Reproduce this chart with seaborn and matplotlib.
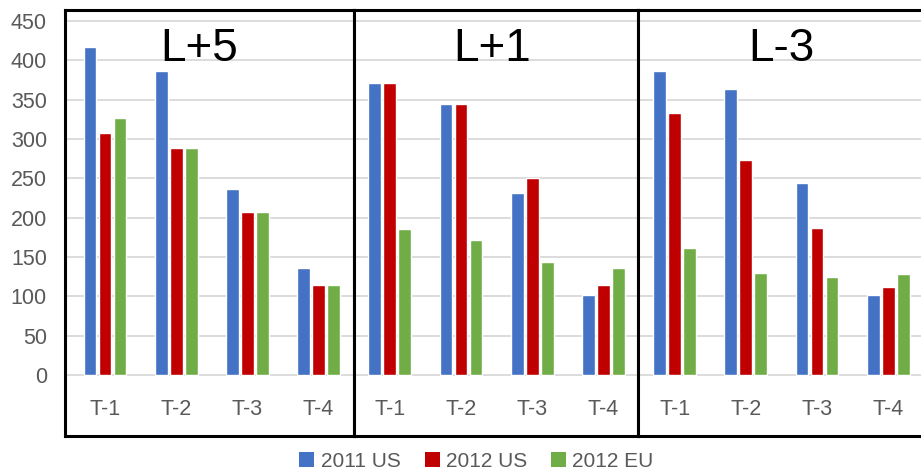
import matplotlib
matplotlib.use("Agg")
import matplotlib.pyplot as plt
import pandas as pd
import seaborn as sns
from matplotlib.patches import Patch

# ---- data -----------------------------------------------------------------
categories = ["T-1", "T-2", "T-3", "T-4"]
panels = ["L+5", "L+1", "L-3"]
series = ["2011 US", "2012 US", "2012 EU"]
colors = ["#4472C4", "#C00000", "#70AD47"]

us2011_l5 = [417, 387, 237, 136]
us2012_l5 = [307, 288, 207, 114]
eu2012_l5 = [327, 288, 207, 115]

us2011_l1 = [371, 345, 231, 102]
us2012_l1 = [371, 345, 250, 115]
eu2012_l1 = [185, 172, 144, 136]

us2011_l3 = [387, 363, 244, 102]
us2012_l3 = [333, 273, 187, 112]
eu2012_l3 = [161, 130, 125, 128]

y_ticks = [0, 50, 100, 150, 200, 250, 300, 350, 400, 450]

panel_values = {
    "L+5": [us2011_l5, us2012_l5, eu2012_l5],
    "L+1": [us2011_l1, us2012_l1, eu2012_l1],
    "L-3": [us2011_l3, us2012_l3, eu2012_l3],
}

rows = []
for p in panels:
    for s, vals in zip(series, panel_values[p]):
        for c, v in zip(categories, vals):
            rows.append({"panel": p, "series": s, "period": c, "value": v})
df = pd.DataFrame(rows)

# ---- styling ----------------------------------------------------------------
sns.set_theme(style="white")
plt.rcParams["font.family"] = ["Liberation Sans", "DejaVu Sans"]

W, H = 921, 469
fig = plt.figure(figsize=(W / 100, H / 100), dpi=100)

# layout in pixels
box_top, box_bottom = 10, 436
zero_px, top_px = 375.0, 21.0
px_per_unit = (zero_px - top_px) / 450.0
ymax = (zero_px - box_top) / px_per_unit
ymin = -(box_bottom - zero_px) / px_per_unit

edges = [65, 353.5, 637.5, 921]
first_center, step = 105.0, 71.2
title_x = [0.464, 0.487, 0.506]
title_y = (box_bottom - 49) / (box_bottom - box_top)

grey = "#595959"

for i, name in enumerate(panels):
    left, right = edges[i], edges[i + 1]
    ax = fig.add_axes([left / W, (H - box_bottom) / H,
                       (right - left) / W, (box_bottom - box_top) / H])
    sns.barplot(data=df[df["panel"] == name], x="period", y="value",
                hue="series", order=categories, hue_order=series,
                palette=colors, saturation=1, width=0.63, gap=0.15,
                errorbar=None, legend=False, ax=ax)
    c0 = first_center + i * 4 * step
    ax.set_xlim((left - c0) / step, (right - c0) / step)
    ax.set_ylim(ymin, ymax)
    ax.set_yticks(y_ticks)
    ax.set_xlabel("")
    ax.set_ylabel("")
    ax.grid(axis="y", color="#D9D9D9", linewidth=1.3)
    ax.grid(axis="x", visible=False)
    ax.set_axisbelow(True)
    ax.tick_params(axis="y", length=0, pad=13, labelsize=15.5, labelcolor=grey)
    ax.tick_params(axis="x", length=0, pad=-27, labelsize=15.5, labelcolor=grey)
    if i > 0:
        ax.tick_params(axis="y", labelleft=False)
    for side, sp in ax.spines.items():
        sp.set_visible(True)
        sp.set_color("black")
        sp.set_linewidth(2.2)
    if i == len(panels) - 1:
        ax.spines["right"].set_visible(False)
    ax.text(title_x[i], title_y, name, transform=ax.transAxes,
            ha="center", va="center", fontsize=33, color="black")

handles = [Patch(facecolor=c, edgecolor="none", label=s) for s, c in zip(series, colors)]
fig.legend(handles=handles, loc="center", bbox_to_anchor=(476.5 / W, 1 - 461 / H),
           ncol=3, frameon=False, fontsize=15, handlelength=0.72,
           handleheight=0.72, handletextpad=0.3, columnspacing=1.15,
           labelcolor=grey, borderpad=0.1)

fig.savefig("out.png", dpi=100)
